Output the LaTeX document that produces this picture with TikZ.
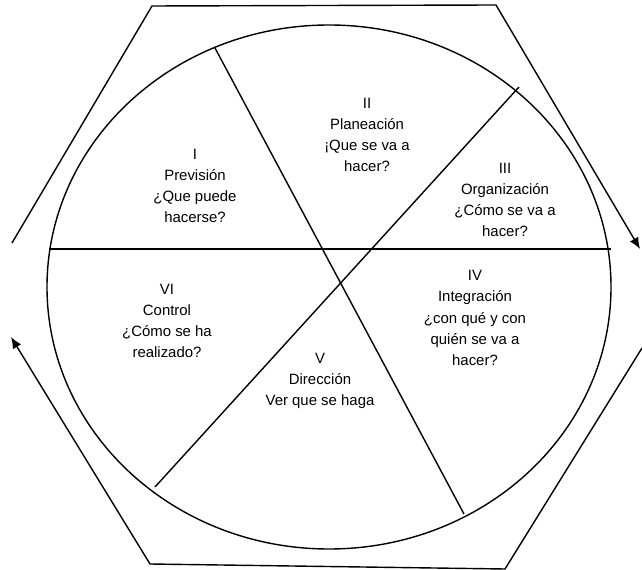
\documentclass[tikz,border=0pt]{standalone}
\usepackage{fontspec}
\setsansfont{Liberation Sans}
\usetikzlibrary{arrows.meta}

\begin{document}
\begin{tikzpicture}[x=0.02cm, y=-0.02cm, line width=0.8pt, main node/.style={align=center, font=\sffamily\fontsize{8.5}{12}\selectfont}]
            \useasboundingbox (0,0) rectangle (642,570);

              % circle and its cuts
              \draw (329,287) ellipse [x radius=282, y radius=262];
              \coordinate (h1) at (49,249);
              \coordinate (h2) at (611,249);
              \coordinate (a1) at (215,48);
              \coordinate (a2) at (464,514);
              \coordinate (b1) at (519,87);
              \coordinate (b2) at (155,487);

              \path (h1) edge (h2)
                    (a1) edge (a2)
                    (b1) edge (b2);

              % outer hexagon
              \coordinate (t1) at (12,243);
              \coordinate (t2) at (152,6);
              \coordinate (t3) at (496,5);
              \coordinate (t4) at (640,249);
              \coordinate (u1) at (642,348);
              \coordinate (u2) at (505,569);
              \coordinate (u3) at (150,564);
              \coordinate (u4) at (11,337);
              \draw[-{Latex[length=6.5pt,width=5.5pt]}] (t1) -- (t2) -- (t3) -- (t4);
              \draw[-{Latex[length=6.5pt,width=5.5pt]}] (u1) -- (u2) -- (u3) -- (u4);

              \node[main node] (1) at (195,186) {I\\Previsión\\¿Que puede\\hacerse?};
              \node[main node] (2) at (367,135) {II\\Planeación\\¡Que se va a\\hacer?};
              \node[main node] (3) at (505,200) {III\\Organización\\¿Cómo se va a\\hacer?};
              \node[main node] (4) at (475,318) {IV\\Integración\\¿con qué y con\\quién se va a\\hacer?};
              \node[main node] (5) at (320,381) {V\\Dirección\\Ver que se haga};
              \node[main node] (6) at (167,321) {VI\\Control\\¿Cómo se ha\\realizado?};

\end{tikzpicture}
\end{document}
